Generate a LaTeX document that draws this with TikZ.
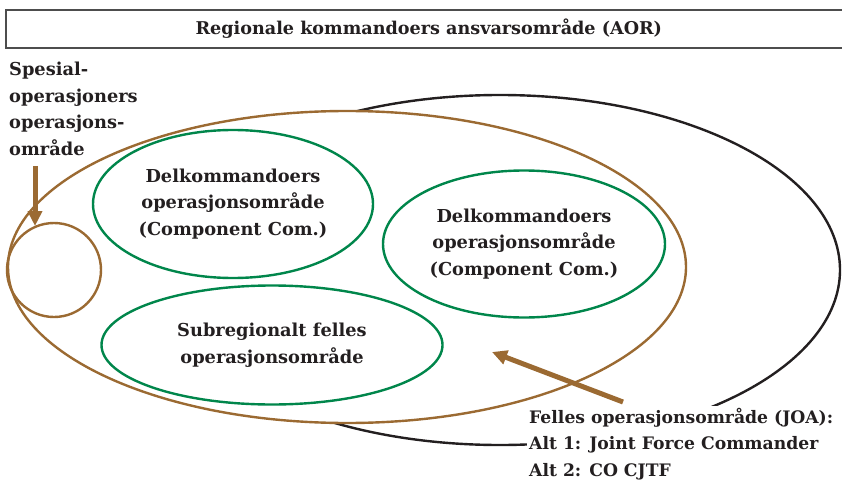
\documentclass[tikz,border=0pt]{standalone}
\usepackage{fontspec}
\setmainfont{DejaVu Serif}
\usetikzlibrary{shapes.geometric,arrows.meta}
\definecolor{aorbrown}{HTML}{9B6A32}
\definecolor{compgreen}{HTML}{00864B}
\definecolor{inkblack}{HTML}{231F20}
\definecolor{framegray}{HTML}{4D4D4D}
\begin{document}
\begin{tikzpicture}[x=1pt,y=-1pt,
  lbl/.style={font=\bfseries\fontsize{17.8}{26.5}\selectfont, text=inkblack},
  area/.style={ellipse, draw=compgreen, line width=2.4pt, inner sep=0pt, align=center, lbl},
  pointer/.style={draw=aorbrown, line width=5pt, -{Triangle[length=15pt,width=14pt]}}]
\useasboundingbox (0,0) rectangle (842,481);

% banner for the regional area of responsibility
\node (aor) [draw=framegray, line width=1.6pt, anchor=north west,
  minimum width=846pt, minimum height=38pt, inner sep=0pt,
  font=\bfseries\fontsize{17.6}{20}\selectfont, text=inkblack] at (5,9)
  {Regionale kommandoers ansvarsområde (AOR)};

% outer black area, partly hidden by the joint operations area
\draw[inkblack, line width=2.4pt] (500,270) ellipse [x radius=340, y radius=175];

% joint operations area (brown)
\node (joa) [ellipse, draw=aorbrown, fill=white, line width=2.4pt, inner sep=0pt,
  minimum width=678pt, minimum height=312pt] at (347,267) {};

% special operations area
\node (sof) [circle, draw=aorbrown, line width=2.4pt, inner sep=0pt,
  minimum size=94pt] at (54,270) {};

% component commands and subregional area
\node (comp1) [area, minimum width=280pt, minimum height=148pt] at (233,204)
  {Delkommandoers\\operasjonsområde\\(Component Com.)};
\node (comp2) [area, minimum width=282pt, minimum height=147pt] at (524,244)
  {Delkommandoers\\operasjonsområde\\(Component Com.)};
\node (subreg) [area, minimum width=341pt, minimum height=119pt] at (272,345)
  {Subregionalt felles\\operasjonsområde};

% labels
\node (soflabel) [lbl, align=left, anchor=west, inner sep=0pt] at (9,109)
  {Spesial-\\operasjoners\\operasjons-\\område};
\node (joalabel) [lbl, font=\bfseries\fontsize{17.2}{26.5}\selectfont,
  align=left, anchor=west, fill=white, inner sep=2pt] at (527,444)
  {Felles operasjonsområde (JOA):\\Alt 1: Joint Force Commander\\Alt 2: CO CJTF};

% pointers
\coordinate (softail) at (35,166);
\coordinate (softip) at (35,226);
\coordinate (joatail) at (623,402);
\coordinate (joatip) at (492,352);
\draw[pointer] (softail) -- (softip);
\draw[pointer] (joatail) -- (joatip);
\end{tikzpicture}
\end{document}
